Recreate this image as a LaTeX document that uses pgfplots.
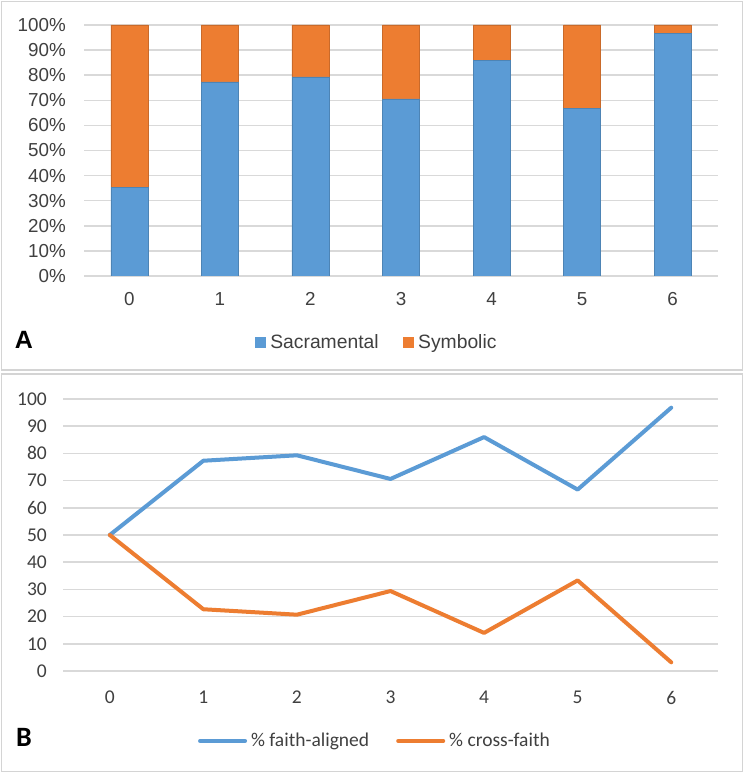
\documentclass[border=0pt]{standalone}
\usepackage{fontspec}
\setmainfont{Liberation Sans}
\newfontfamily\calibri{Carlito}
\usepackage{pgfplots}
\usepackage{pgfplotstable}
\pgfplotsset{compat=1.18}

\definecolor{xlblue}{HTML}{5B9BD5}
\definecolor{xlorange}{HTML}{ED7D31}
\definecolor{gridgray}{HTML}{D9D9D9}
\definecolor{framegray}{HTML}{D4D4D4}
\definecolor{txt}{HTML}{404040}

% Panel A: share of sacramental vs symbolic responses (percent)
\pgfplotstableread{
cat sacr symb
0 35.3 64.7
1 77.3 22.7
2 79.3 20.7
3 70.6 29.4
4 86.0 14.0
5 66.7 33.3
6 96.8 3.2
}\tabA

% Panel B: faith-aligned vs cross-faith (percent)
\pgfplotstableread{
cat aligned cross
0 50.0 50.0
1 77.3 22.7
2 79.3 20.7
3 70.6 29.4
4 86.0 14.0
5 66.7 33.3
6 96.8 3.2
}\tabB

\begin{document}
\begin{tikzpicture}[x=1bp,y=1bp]
\path[use as bounding box] (0,0) rectangle (744,773);
\fill[white] (0,0) rectangle (744,773);
% panel frames
\draw[framegray, line width=1.6bp] (1.5,403) rectangle (742.5,771.5);
\draw[framegray, line width=1.6bp] (1.5,1.5) rectangle (742.5,399);

% ---------- Panel A ----------
\begin{axis}[
  at={(84bp,497bp)}, anchor=south west,
  width=634bp, height=251bp, scale only axis,
  xmin=-0.5, xmax=6.5, ymin=0, ymax=100,
  ybar stacked, bar width=37bp,
  xtick={0,1,2,3,4,5,6}, xticklabels={0,1,2,3,4,5,6},
  ytick={0,10,20,30,40,50,60,70,80,90,100},
  yticklabels={0\%,10\%,20\%,30\%,40\%,50\%,60\%,70\%,80\%,90\%,100\%},
  ymajorgrids, grid style={gridgray, line width=1.5bp},
  axis x line*=bottom, axis y line*=left,
  x axis line style={draw=gridgray, line width=1.5bp},
  y axis line style={draw=none},
  tick style={draw=none}, major tick length=0pt,
  ticklabel style={font=\fontsize{18.8bp}{20bp}\selectfont, text=txt},
  yticklabel style={anchor=east, inner sep=0pt, xshift=-18bp},
  xticklabel style={anchor=north, inner sep=0pt, yshift=-16.5bp},
  legend style={at={(0.46,-0.263)}, anchor=center, draw=none, fill=none,
    legend columns=2, font=\fontsize{19.3bp}{21bp}\selectfont, text=txt,
    nodes={inner sep=0pt},
    /tikz/every odd column/.append style={column sep=5bp},
    /tikz/every even column/.append style={column sep=24bp}},
  legend cell align=left,
]
\addplot[fill=xlblue, draw=xlblue!85!black, line width=0.5bp,
  legend image code/.code={\fill[xlblue] (0bp,-5bp) rectangle (10bp,5bp);}]
  table[x=cat, y=sacr] {\tabA};
\addplot[fill=xlorange, draw=xlorange!85!black, line width=0.5bp,
  legend image code/.code={\fill[xlorange] (0bp,-5bp) rectangle (10bp,5bp);}]
  table[x=cat, y=symb] {\tabA};
\legend{Sacramental, Symbolic}
\end{axis}
\node[font=\bfseries\fontsize{25bp}{25bp}\selectfont, text=black] at (24,433) {A};

% ---------- Panel B ----------
\begin{axis}[
  at={(63bp,102bp)}, anchor=south west,
  width=655bp, height=272bp, scale only axis,
  xmin=-0.5, xmax=6.5, ymin=0, ymax=100,
  xtick={0,1,2,3,4,5,6}, xticklabels={0,1,2,3,4,5,6},
  ytick={0,10,20,30,40,50,60,70,80,90,100},
  yticklabels={0,10,20,30,40,50,60,70,80,90,100},
  ymajorgrids, grid style={gridgray, line width=1.5bp},
  axis x line*=bottom, axis y line*=left,
  x axis line style={draw=gridgray, line width=1.5bp},
  y axis line style={draw=none},
  tick style={draw=none}, major tick length=0pt,
  ticklabel style={font=\calibri\fontsize{19.5bp}{21bp}\selectfont, text=txt},
  yticklabel style={anchor=east, inner sep=0pt, xshift=-16bp},
  xticklabel style={anchor=north, inner sep=0pt, yshift=-20bp},
  legend style={at={(0.4747,-0.257)}, anchor=center, draw=none, fill=none,
    legend columns=2, font=\calibri\fontsize{19.5bp}{21bp}\selectfont, text=txt,
    nodes={inner sep=0pt},
    /tikz/every odd column/.append style={column sep=4bp},
    /tikz/every even column/.append style={column sep=27bp}},
  legend cell align=left,
  legend image code/.code={\draw[#1] (0bp,0bp) -- (45bp,0bp);},
]
\addplot[xlblue, line width=4bp, line join=round, line cap=round]
  table[x=cat, y=aligned] {\tabB};
\addplot[xlorange, line width=4bp, line join=round, line cap=round]
  table[x=cat, y=cross] {\tabB};
\legend{\% faith-aligned, \% cross-faith}
\end{axis}
\node[font=\calibri\bfseries\fontsize{28bp}{28bp}\selectfont, text=black] at (24,36) {B};
\end{tikzpicture}
\end{document}
